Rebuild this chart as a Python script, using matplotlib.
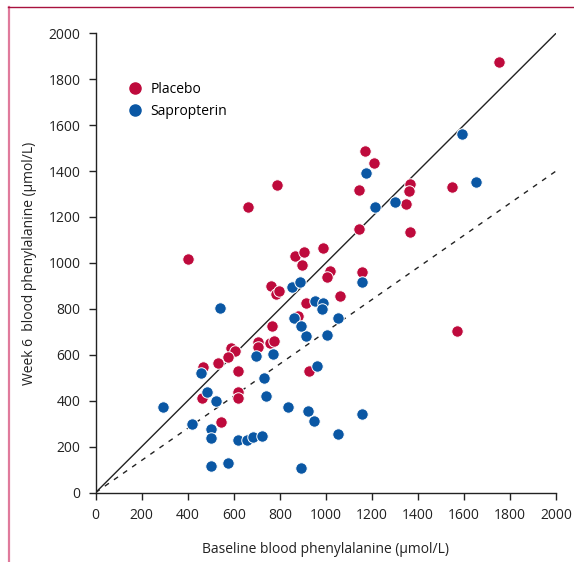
import matplotlib
matplotlib.use("Agg")
import matplotlib.pyplot as plt
from matplotlib.lines import Line2D

# Placebo (red) points: baseline, week 6
placebo_x = [786, 663, 402, 866, 760, 785, 795, 765, 590, 607, 706, 706, 757, 776,
             573, 530, 467, 620, 460, 620, 617, 544, 928, 1571, 1170, 1210, 1145,
             1365, 1362, 1348, 1546, 1144, 1365, 905, 895, 989, 1020, 1007, 1155,
             1061, 914, 880, 1752]
placebo_y = [1339, 1245, 1017, 1030, 901, 865, 878, 727, 630, 618, 657, 635, 652, 661,
             589, 563, 548, 529, 413, 436, 413, 308, 531, 703, 1487, 1434, 1318,
             1342, 1314, 1257, 1332, 1146, 1133, 1049, 991, 1063, 965, 937, 962,
             857, 824, 769, 1874]

# Sapropterin (blue) points
sap_x = [851, 541, 861, 457, 696, 771, 732, 291, 482, 521, 740, 837, 417, 501, 501,
         620, 656, 682, 724, 500, 576, 914, 1003, 960, 924, 950, 1157, 1054, 890,
         1173, 1213, 1300, 1651, 1593, 888, 1155, 953, 989, 984, 892, 1054]
sap_y = [896, 805, 761, 519, 594, 603, 500, 374, 436, 400, 422, 374, 298, 277, 239,
         229, 229, 243, 246, 115, 127, 682, 687, 552, 356, 313, 342, 255, 105,
         1390, 1245, 1267, 1354, 1561, 918, 915, 835, 824, 799, 727, 761]

ticks = [0, 200, 400, 600, 800, 1000, 1200, 1400, 1600, 1800, 2000]
series_names = ["Placebo", "Sapropterin"]
red = "#BE0A3C"
blue = "#0A57A4"

plt.rcParams['font.family'] = ['Open Sans', 'DejaVu Sans']

fig = plt.figure(figsize=(5.74, 5.62), dpi=100)
ax = fig.add_axes([95.7/574, (562-492.5)/562, (556-95.7)/574, (492.5-33.3)/562])

# frame lines of the figure
fig.add_artist(Line2D([8.5/574, 8.5/574], [0, 1-7/562], transform=fig.transFigure,
                      color="#E07A9C", lw=1.6))
fig.add_artist(Line2D([8/574, 1], [1-7/562, 1-7/562], transform=fig.transFigure,
                      color="#A8123E", lw=1.0))

ax.plot([0, 2000], [0, 2000], color="#222222", lw=1.0, zorder=1)
ax.plot([0, 2000], [0, 1400], color="#222222", lw=1.0, dashes=(3.6, 4.4), zorder=1)

ax.scatter(placebo_x, placebo_y, s=68, color=red, edgecolors="white", linewidths=0.7, zorder=3)
ax.scatter(sap_x, sap_y, s=68, color=blue, edgecolors="white", linewidths=0.7, zorder=3)

ax.set_xlim(0, 2000)
ax.set_ylim(0, 2000)
ax.set_xticks(ticks)
ax.set_yticks(ticks)
ax.set_xticklabels([str(t) for t in ticks])
ax.set_yticklabels([str(t) for t in ticks])
ax.tick_params(direction="out", length=5, width=1, labelsize=10, colors="#222222")
ax.tick_params(axis="x", pad=6)
ax.tick_params(axis="y", pad=6)
for s in ["top", "right"]:
    ax.spines[s].set_visible(False)
for s in ["left", "bottom"]:
    ax.spines[s].set_color("#222222")
    ax.spines[s].set_linewidth(1.0)
    ax.spines[s].set_clip_on(False)

ax.set_xlabel("Baseline blood phenylalanine (μmol/L)", fontsize=10, color="#222222", labelpad=14)
ax.set_ylabel("Week 6  blood phenylalanine (μmol/L)", fontsize=10, color="#222222", labelpad=8)

h1 = Line2D([], [], marker="o", ls="", color=red, markersize=8)
h2 = Line2D([], [], marker="o", ls="", color=blue, markersize=8)
leg = ax.legend([h1, h2], series_names, loc="upper left", bbox_to_anchor=(0.055, 0.907),
                frameon=False, fontsize=10, handletextpad=0.5, labelspacing=0.5,
                borderaxespad=0, handlelength=1.2)

fig.savefig("out.png", dpi=100)
